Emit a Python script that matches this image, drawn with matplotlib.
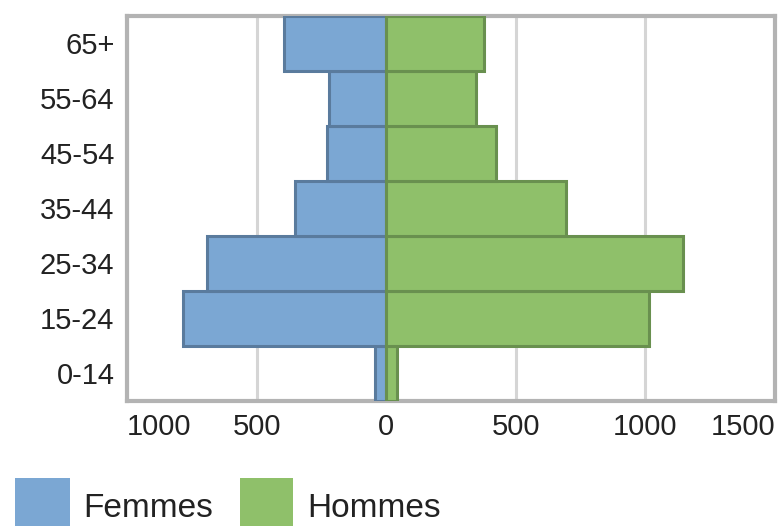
import matplotlib.pyplot as plt
from matplotlib.patches import Rectangle

age_groups = ['0-14', '15-24', '25-34', '35-44', '45-54', '55-64', '65+']
femmes = [45, 783, 691, 351, 228, 220, 393]
hommes = [40, 1015, 1146, 694, 424, 347, 378]
xticks = [-1000, -500, 0, 500, 1000, 1500]
xtick_labels = ['1000', '500', '0', '500', '1000', '1500']

blue, blue_edge = '#7ba7d3', '#5a7b9d'
green, green_edge = '#8fc06a', '#69904f'
text_color = '#222222'

plt.rcParams['font.family'] = ['Liberation Sans', 'DejaVu Sans']

fig = plt.figure(figsize=(7.79, 5.26), dpi=100)
ax = fig.add_axes([0.163, 0.238, 0.832, 0.732])

y = range(len(age_groups))
ax.barh(y, [-v for v in femmes], height=1.0, color=blue, edgecolor=blue_edge,
        linewidth=2.2, zorder=3)
ax.barh(y, hommes, height=1.0, color=green, edgecolor=green_edge,
        linewidth=2.2, zorder=3)

ax.set_xlim(-1000, 1500)
ax.set_ylim(-0.5, len(age_groups) - 0.5)
ax.set_yticks(list(y))
ax.set_yticklabels(age_groups, fontsize=21, color=text_color)
ax.set_xticks(xticks)
ax.set_xticklabels(xtick_labels, fontsize=21, color=text_color)
labels = ax.get_xticklabels()
labels[0].set_ha('left')
labels[-1].set_ha('right')
ax.tick_params(length=0, pad=9)

ax.grid(axis='x', color='#d5d5d5', linewidth=2.2, zorder=0)
for s in ax.spines.values():
    s.set_color('#b3b3b3')
    s.set_linewidth(3)

# legend drawn by hand below the plot
fig.add_artist(Rectangle((0.019, 0.0), 0.071, 0.091, transform=fig.transFigure,
                         facecolor=blue, edgecolor='none'))
fig.text(0.107, 0.034, 'Femmes', fontsize=24, color=text_color, va='center')
fig.add_artist(Rectangle((0.308, 0.0), 0.068, 0.091, transform=fig.transFigure,
                         facecolor=green, edgecolor='none'))
fig.text(0.395, 0.034, 'Hommes', fontsize=24, color=text_color, va='center')

fig.savefig('out.png', dpi=100)
